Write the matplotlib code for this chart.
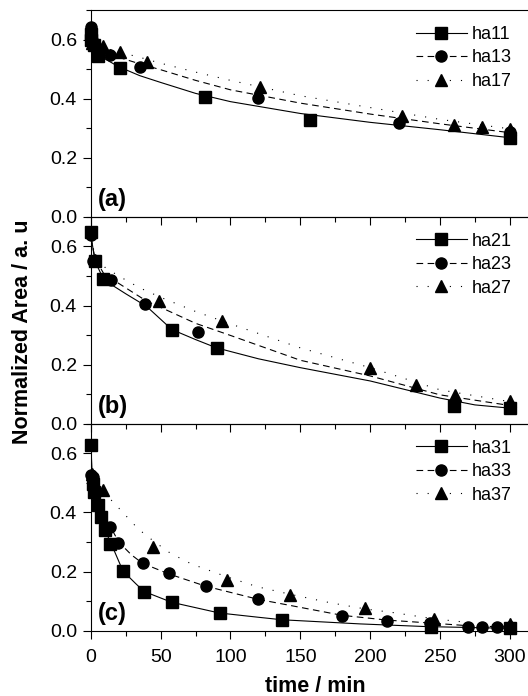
import matplotlib.pyplot as plt
from matplotlib.lines import Line2D
from matplotlib.ticker import MultipleLocator

plt.rcParams['font.family'] = ['Liberation Sans', 'DejaVu Sans']

# ---- panel (a): measured points ----
t_ha11 = [0, 0, 2, 5.5, 21, 82, 157, 300]
y_ha11 = [0.62, 0.60, 0.58, 0.546, 0.505, 0.405, 0.329, 0.267]
t_ha13 = [0, 0, 1, 3, 14, 35, 120, 221, 300]
y_ha13 = [0.642, 0.62, 0.60, 0.58, 0.549, 0.508, 0.404, 0.318, 0.288]
t_ha17 = [1, 9, 21, 40, 121, 223, 260, 280, 300]
y_ha17 = [0.59, 0.578, 0.557, 0.525, 0.438, 0.342, 0.312, 0.303, 0.299]

# panel (a): fitted curves
fit_a_t = [0, 2, 5, 10, 20, 35, 50, 75, 100, 150, 200, 250, 300]
fit_ha11 = [0.60, 0.575, 0.553, 0.535, 0.508, 0.478, 0.455, 0.418, 0.39, 0.35, 0.32, 0.295, 0.268]
fit_ha13 = [0.60, 0.585, 0.572, 0.56, 0.54, 0.518, 0.498, 0.462, 0.43, 0.385, 0.348, 0.315, 0.285]
fit_ha17 = [0.60, 0.59, 0.58, 0.572, 0.558, 0.54, 0.52, 0.49, 0.462, 0.41, 0.37, 0.33, 0.298]

# ---- panel (b): measured points ----
t_ha21 = [0, 3, 9, 58, 90, 260, 300]
y_ha21 = [0.65, 0.55, 0.491, 0.319, 0.257, 0.06, 0.054]
t_ha23 = [0, 1.5, 14.5, 39, 77]
y_ha23 = [0.64, 0.552, 0.488, 0.405, 0.31]
t_ha27 = [3, 49, 94, 200, 233, 261, 300]
y_ha27 = [0.553, 0.417, 0.347, 0.189, 0.133, 0.099, 0.077]

# panel (b): fitted curves
fit_ha21_t = [0, 3, 9, 15, 25, 40, 58, 75, 90, 120, 150, 200, 250, 275, 300]
fit_ha21 = [0.64, 0.55, 0.49, 0.47, 0.44, 0.397, 0.319, 0.285, 0.257, 0.22, 0.19, 0.145, 0.087, 0.064, 0.053]
fit_ha23_t = [0, 3, 9, 15, 25, 40, 50, 75, 100, 150, 200, 250, 300]
fit_ha23 = [0.63, 0.56, 0.51, 0.49, 0.46, 0.415, 0.394, 0.34, 0.299, 0.215, 0.162, 0.098, 0.062]
fit_ha27_t = [0, 3, 10, 20, 35, 50, 75, 100, 150, 200, 250, 300]
fit_ha27 = [0.63, 0.57, 0.53, 0.50, 0.46, 0.428, 0.38, 0.338, 0.257, 0.19, 0.115, 0.075]

# ---- panel (c): measured points ----
t_ha31 = [0, 1.3, 2.5, 5, 7.4, 10.2, 13.8, 22.9, 38.3, 58, 92.5, 136.6, 243.4, 300]
y_ha31 = [0.628, 0.498, 0.47, 0.427, 0.386, 0.341, 0.292, 0.202, 0.13, 0.096, 0.059, 0.036, 0.011, 0.008]
t_ha33 = [0, 0, 1.5, 13.8, 19.8, 37.2, 56.2, 82.5, 119.9, 180, 211.7, 242.7, 270, 280, 290.5, 300]
y_ha33 = [0.628, 0.527, 0.52, 0.352, 0.298, 0.228, 0.194, 0.151, 0.106, 0.051, 0.034, 0.027, 0.0135, 0.0135, 0.0135, 0.0135]
t_ha37 = [1, 9, 44.8, 97.3, 142.6, 196.2, 245.8, 300]
y_ha37 = [0.53, 0.477, 0.282, 0.171, 0.121, 0.076, 0.038, 0.023]

# panel (c): fitted curves
fit_ha31_t = [0, 1, 2.5, 5, 7.5, 10, 15, 23, 32, 38, 58, 92, 121, 137, 193, 240, 300]
fit_ha31 = [0.63, 0.53, 0.48, 0.43, 0.386, 0.342, 0.29, 0.202, 0.16, 0.133, 0.096, 0.06, 0.045, 0.037, 0.023, 0.014, 0.008]
fit_ha33_t = [0, 3, 7, 14, 20, 29, 37, 56, 82, 120, 180, 212, 243, 270, 300]
fit_ha33 = [0.55, 0.47, 0.41, 0.352, 0.3, 0.257, 0.228, 0.192, 0.151, 0.106, 0.052, 0.036, 0.026, 0.017, 0.012]
fit_ha37_t = [0, 3, 9, 20, 34, 45, 57, 72, 97, 119, 143, 171, 196, 217, 246, 264, 300]
fit_ha37 = [0.53, 0.50, 0.47, 0.415, 0.344, 0.303, 0.262, 0.226, 0.183, 0.149, 0.123, 0.095, 0.074, 0.061, 0.04, 0.031, 0.013]

panel_tags = ['(a)', '(b)', '(c)']
names = [['ha11', 'ha13', 'ha17'], ['ha21', 'ha23', 'ha27'], ['ha31', 'ha33', 'ha37']]

panels = [
    [(t_ha11, y_ha11, fit_a_t, fit_ha11), (t_ha13, y_ha13, fit_a_t, fit_ha13), (t_ha17, y_ha17, fit_a_t, fit_ha17)],
    [(t_ha21, y_ha21, fit_ha21_t, fit_ha21), (t_ha23, y_ha23, fit_ha23_t, fit_ha23), (t_ha27, y_ha27, fit_ha27_t, fit_ha27)],
    [(t_ha31, y_ha31, fit_ha31_t, fit_ha31), (t_ha33, y_ha33, fit_ha33_t, fit_ha33), (t_ha37, y_ha37, fit_ha37_t, fit_ha37)],
]

markers = ['s', 'o', '^']
styles = ['-', (0, (6, 4)), (0, (1, 9))]

fig = plt.figure(figsize=(5.28, 6.96), dpi=100)
gs = fig.add_gridspec(3, 1, left=0.172, right=1.0, top=0.9856, bottom=0.0938, hspace=0)

for i in range(3):
    ax = fig.add_subplot(gs[i])
    ax.patch.set_visible(False)
    for j, (t, y, ft, fy) in enumerate(panels[i]):
        ax.plot(ft, fy, color='k', lw=0.8, linestyle=styles[j])
        ax.plot(t, y, linestyle='none', marker=markers[j], color='k', ms=8, clip_on=False, zorder=5)

    ax.set_xlim(0, 313)
    ax.set_ylim(0, 0.7)
    ax.xaxis.set_major_locator(MultipleLocator(50))
    ax.xaxis.set_minor_locator(MultipleLocator(25))
    ax.yaxis.set_minor_locator(MultipleLocator(0.1))
    ax.set_yticks([0, 0.2, 0.4, 0.6])
    ax.set_yticklabels(['0.0', '0.2', '0.4', '0.6'])
    ax.spines['right'].set_visible(False)
    for s in ax.spines.values():
        s.set_linewidth(0.8)
    ax.tick_params(which='both', direction='out', top=False, right=False, width=0.8, labelsize=14)
    ax.tick_params(which='major', length=6)
    ax.tick_params(which='minor', length=3.5)
    ax.tick_params(axis='y', pad=4)
    ax.tick_params(axis='x', pad=7)
    if i < 2:
        ax.tick_params(axis='x', labelbottom=False)

    ax.text(0.017, 0.03, panel_tags[i], transform=ax.transAxes, fontsize=17, fontweight='bold', ha='left', va='bottom')

    handles = [Line2D([], [], color='k', lw=0.8, linestyle=styles[j], marker=markers[j], ms=8) for j in range(3)]
    ax.legend(handles, names[i], loc='upper right', frameon=False, fontsize=13,
              handlelength=2.8, handletextpad=0.3, labelspacing=0.36, borderpad=0.2, borderaxespad=0.68)

fig.text(0.043, 1 - 332 / 696, 'Normalized Area / a. u', rotation=90, ha='center', va='center', fontsize=15.5, fontweight='bold')
fig.text(0.597, 1 - 687 / 696, 'time / min', ha='center', va='center', fontsize=15.5, fontweight='bold')

fig.savefig('out.png', dpi=100)
